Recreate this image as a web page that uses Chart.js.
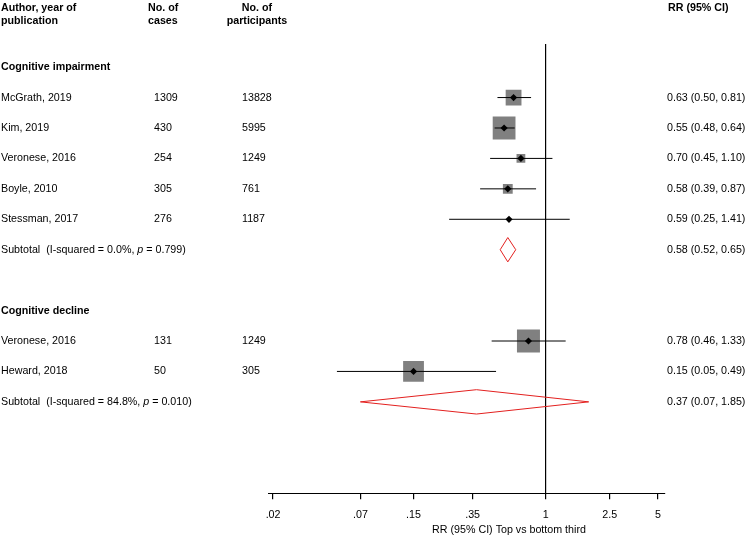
<!DOCTYPE html>
<html>
<head>
<meta charset="utf-8">
<script src="https://cdn.jsdelivr.net/npm/chart.js@4.4.1/dist/chart.umd.min.js"></script>
<style>
  body { margin: 0; background: #fff; }
  #forest { display: block; }
</style>
</head>
<body>
<canvas id="forest" width="748" height="539"></canvas>
<script>
// study rows
const studies = ["McGrath, 2019", "Kim, 2019", "Veronese, 2016", "Boyle, 2010", "Stessman, 2017", "Veronese, 2016", "Heward, 2018"];
const studyRows = [1, 2, 3, 4, 5, 9, 10];
const cases = [1309, 430, 254, 305, 276, 131, 50];
const participants = [13828, 5995, 1249, 761, 1187, 1249, 305];
const rr = [0.63, 0.55, 0.70, 0.58, 0.59, 0.78, 0.15];
const lower = [0.50, 0.48, 0.45, 0.39, 0.25, 0.46, 0.05];
const upper = [0.81, 0.64, 1.10, 0.87, 1.41, 1.33, 0.49];
const weights = [26, 54, 8, 10, 1, 55, 45]; // % weight, sets box area

// groups and subtotals
const groups = ["Cognitive impairment", "Cognitive decline"];
const groupRows = [0, 8];
const subRows = [6, 11];
const subI2 = ["0.0%", "84.8%"];
const subP = ["0.799", "0.010"];
const subRR = [0.58, 0.37];
const subLower = [0.52, 0.07];
const subUpper = [0.65, 1.85];

// x axis
const tickValues = [0.02, 0.07, 0.15, 0.35, 1, 2.5, 5];
const tickLabels = [".02", ".07", ".15", ".35", "1", "2.5", "5"];

const FONT = '"Liberation Sans", Arial, sans-serif';
const FS = "10.7px ";

function fmt(v) { return v.toFixed(2); }

// CI lines, one dataset per study
const ciSets = studies.map((s, i) => ({
    type: "line",
    data: [{ x: lower[i], y: studyRows[i] }, { x: upper[i], y: studyRows[i] }],
    borderColor: "#000",
    borderWidth: 1,
    pointRadius: 0,
    order: 2
}));

// subtotal diamonds
const diamondSets = subRows.map((r, i) => ({
    type: "line",
    data: [
        { x: subLower[i], y: r },
        { x: subRR[i], y: r - 0.4 },
        { x: subUpper[i], y: r },
        { x: subRR[i], y: r + 0.4 },
        { x: subLower[i], y: r }
    ],
    borderColor: "#e3201f",
    borderWidth: 1,
    pointRadius: 0,
    tension: 0,
    order: 1
}));

const boxSet = {
    type: "scatter",
    data: rr.map((v, i) => ({ x: v, y: studyRows[i] })),
    pointStyle: "rect",
    pointRadius: weights.map(w => 3.1 * Math.sqrt(w) / Math.SQRT2),
    backgroundColor: "#808080",
    borderWidth: 0,
    order: 3
};

const pointSet = {
    type: "scatter",
    data: rr.map((v, i) => ({ x: v, y: studyRows[i] })),
    pointStyle: "rectRot",
    pointRadius: 3.6,
    backgroundColor: "#000",
    borderWidth: 0,
    order: 0
};

// text columns drawn against the y scale
const tablePlugin = {
    id: "table",
    afterDraw(chart) {
        const ctx = chart.ctx;
        const y = chart.scales.y;
        ctx.save();
        ctx.fillStyle = "#000";
        ctx.textBaseline = "alphabetic";

        // headers
        ctx.font = "bold " + FS + FONT;
        ctx.textAlign = "left";
        ctx.fillText("Author, year of", 1, 11);
        ctx.fillText("publication", 1, 24);
        ctx.fillText("No. of", 148, 11);
        ctx.fillText("cases", 148, 24);
        ctx.fillText("RR (95% CI)", 668, 11);
        ctx.textAlign = "center";
        ctx.fillText("No. of", 257, 11);
        ctx.fillText("participants", 257, 24);

        ctx.textBaseline = "middle";
        ctx.textAlign = "left";
        groups.forEach((g, i) => {
            ctx.font = "bold " + FS + FONT;
            ctx.fillText(g, 1, y.getPixelForValue(groupRows[i]));
        });

        ctx.font = FS + FONT;
        studies.forEach((s, i) => {
            const py = y.getPixelForValue(studyRows[i]);
            ctx.fillText(s, 1, py);
            ctx.fillText(String(cases[i]), 154, py);
            ctx.fillText(String(participants[i]), 242, py);
            ctx.fillText(fmt(rr[i]) + " (" + fmt(lower[i]) + ", " + fmt(upper[i]) + ")", 667, py);
        });

        subRows.forEach((r, i) => {
            const py = y.getPixelForValue(r);
            let x = 1;
            const a = "Subtotal  (I-squared = " + subI2[i] + ", ";
            ctx.font = FS + FONT;
            ctx.fillText(a, x, py);
            x += ctx.measureText(a).width;
            ctx.font = "italic " + FS + FONT;
            ctx.fillText("p", x, py);
            x += ctx.measureText("p").width;
            ctx.font = FS + FONT;
            ctx.fillText(" = " + subP[i] + ")", x, py);
            ctx.fillText(fmt(subRR[i]) + " (" + fmt(subLower[i]) + ", " + fmt(subUpper[i]) + ")", 667, py);
        });

        // axis title
        ctx.textAlign = "center";
        ctx.fillText("RR (95% CI) Top vs bottom third", 509, 530);
        ctx.restore();
    }
};

new Chart(document.getElementById("forest"), {
    type: "scatter",
    data: { datasets: [boxSet, ...ciSets, ...diamondSets, pointSet] },
    options: {
        responsive: false,
        animation: false,
        events: [],
        layout: { padding: { left: 268, right: 83, top: 44, bottom: 9 } },
        plugins: { legend: { display: false }, tooltip: { enabled: false } },
        scales: {
            x: {
                type: "logarithmic",
                position: "bottom",
                min: 0.0186,
                max: 5.53,
                afterBuildTicks: scale => {
                    scale.ticks = tickValues.map(v => ({ value: v }));
                },
                ticks: {
                    autoSkip: false,
                    maxRotation: 0,
                    padding: 9,
                    color: "#000",
                    font: { size: 10.7, family: FONT },
                    callback: (value, index) => tickLabels[index]
                },
                grid: {
                    color: c => (c.tick && c.tick.value === 1 ? "#000" : "rgba(0,0,0,0)"),
                    tickColor: "#000",
                    tickLength: 6,
                    lineWidth: 1.2
                },
                border: { color: "#000", width: 1 }
            },
            y: {
                type: "linear",
                min: -0.76,
                max: 14,
                reverse: true,
                display: false
            }
        }
    },
    plugins: [tablePlugin]
});
</script>
</body>
</html>
